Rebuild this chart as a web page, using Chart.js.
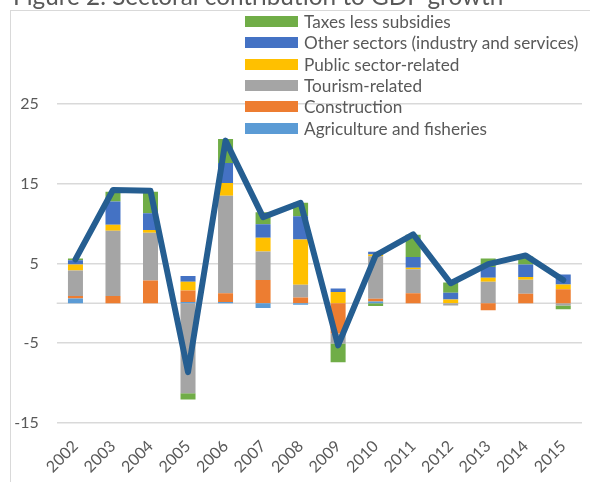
<!DOCTYPE html>
<html lang="en">
<head>
    <meta charset="UTF-8">
    <title>Figure 2. Sectoral contribution to GDP growth</title>
    <style>
        body {
            margin: 0;
            padding: 0;
            background-color: #fff;
            font-family: Lato, "Open Sans", sans-serif;
            color: #595959;
        }
        .wrap {
            position: relative;
            width: 590px;
            height: 482px;
            overflow: hidden;
        }
        .frame {
            position: absolute;
            left: 10px;
            top: 10px;
            width: 700px;
            height: 600px;
            border-left: 1px solid #d9d9d9;
            border-top: 1px solid #d9d9d9;
        }
        .title {
            position: absolute;
            left: 13px;
            top: -19px;
            font-size: 24.3px;
            white-space: nowrap;
            color: #595959;
        }
        #chart {
            position: absolute;
            left: 0;
            top: 0;
        }
        .legend {
            position: absolute;
            left: 245px;
            top: 11px;
        }
        .legend .item {
            display: flex;
            align-items: center;
            height: 21.3px;
            font-size: 17.2px;
            white-space: nowrap;
            color: #595959;
        }
        .legend .box {
            width: 53px;
            height: 11px;
            margin-right: 6px;
        }
    </style>
</head>
<body>
    <div class="wrap">
        <div class="frame"></div>
        <canvas id="chart" width="590" height="482"></canvas>
        <div class="title">Figure 2. Sectoral contribution to GDP growth</div>
        <div class="legend" id="legend"></div>
    </div>

    <script src="https://cdn.jsdelivr.net/npm/chart.js"></script>
    <script>
        const years = ['2002', '2003', '2004', '2005', '2006', '2007', '2008', '2009', '2010', '2011', '2012', '2013', '2014', '2015'];

        // contributions, percentage points
        const agriculture  = [0.6, 0, 0, 0.15, 0.15, -0.6, -0.2, 0, 0.2, 0, 0, 0, 0, 0];
        const construction = [0.3, 0.9, 2.85, 1.45, 1.1, 2.9, 0.7, -3.8, 0.35, 1.25, 0, -0.9, 1.2, 1.75];
        const tourism      = [3.2, 8.2, 6.0, -11.3, 12.25, 3.6, 1.6, -1.25, 5.35, 3.0, -0.3, 2.7, 1.75, -0.3];
        const publicSector = [0.75, 0.75, 0.35, 1.1, 1.6, 1.7, 5.7, 1.4, 0.2, 0.2, 0.45, 0.5, 0.35, 0.6];
        const otherSectors = [0.55, 2.9, 2.1, 0.7, 2.5, 1.7, 2.9, 0.45, 0.35, 1.35, 0.85, 1.35, 1.55, 1.25];
        const taxes        = [0.2, 1.25, 2.7, -0.8, 3.0, 1.5, 1.7, -2.35, -0.35, 2.8, 1.3, 1.05, 1.0, -0.45];
        const gdpGrowth    = [5.5, 14.2, 14.1, -8.65, 20.4, 10.8, 12.6, -5.3, 6.0, 8.65, 2.5, 4.9, 6.0, 2.9];

        const yTicks = [-15, -5, 5, 15, 25];

        const sectors = [
            { label: 'Agriculture and fisheries', data: agriculture, color: '#5B9BD5' },
            { label: 'Construction', data: construction, color: '#ED7D31' },
            { label: 'Tourism-related', data: tourism, color: '#A5A5A5' },
            { label: 'Public sector-related', data: publicSector, color: '#FFC000' },
            { label: 'Other sectors (industry and services)', data: otherSectors, color: '#4472C4' },
            { label: 'Taxes less subsidies', data: taxes, color: '#70AD47' }
        ];

        const barSets = sectors.map(s => ({
            type: 'bar',
            label: s.label,
            data: s.data,
            backgroundColor: s.color,
            borderWidth: 0,
            stack: 'sectors',
            categoryPercentage: 1,
            barPercentage: 0.4
        }));

        const lineSet = {
            type: 'line',
            label: 'GDP growth',
            data: gdpGrowth,
            borderColor: '#255E91',
            borderWidth: 6,
            borderJoinStyle: 'round',
            borderCapStyle: 'round',
            pointRadius: 0,
            tension: 0,
            fill: false,
            stack: 'total',
            order: -1
        };

        // zero line across the plot
        const zeroLine = {
            id: 'zeroLine',
            beforeDatasetsDraw(chart) {
                const y = chart.scales.y.getPixelForValue(0);
                const area = chart.chartArea;
                const ctx = chart.ctx;
                ctx.save();
                ctx.strokeStyle = '#d9d9d9';
                ctx.lineWidth = 1.5;
                ctx.beginPath();
                ctx.moveTo(area.left, y);
                ctx.lineTo(area.right, y);
                ctx.stroke();
                ctx.restore();
            }
        };

        new Chart(document.getElementById('chart'), {
            data: {
                labels: years,
                datasets: [...barSets, lineSet]
            },
            options: {
                responsive: false,
                animation: false,
                devicePixelRatio: 1,
                layout: {
                    padding: { top: 104, right: 8, left: 0, bottom: 0 }
                },
                plugins: {
                    legend: { display: false },
                    tooltip: { enabled: false },
                    title: { display: false }
                },
                scales: {
                    x: {
                        stacked: true,
                        grid: { display: false },
                        border: { display: false },
                        ticks: {
                            color: '#595959',
                            font: { family: 'Lato', size: 16 },
                            maxRotation: 45,
                            minRotation: 45,
                            autoSkip: false,
                            padding: 6
                        },
                        afterFit: s => { s.height = 59.3; }
                    },
                    y: {
                        stacked: true,
                        min: yTicks[0],
                        max: yTicks[yTicks.length - 1],
                        grid: { color: '#d9d9d9', lineWidth: 1.5, drawTicks: false },
                        border: { display: false },
                        ticks: {
                            stepSize: 10,
                            color: '#595959',
                            font: { family: 'Lato', size: 16 },
                            padding: 18
                        },
                        afterFit: s => { s.width = 56.7; }
                    }
                }
            },
            plugins: [zeroLine]
        });

        // legend, top item is the top of the stack
        const legend = document.getElementById('legend');
        sectors.slice().reverse().forEach(s => {
            const item = document.createElement('div');
            item.className = 'item';
            item.innerHTML = '<span class="box" style="background:' + s.color + '"></span>' + s.label;
            legend.appendChild(item);
        });
    </script>
</body>
</html>
